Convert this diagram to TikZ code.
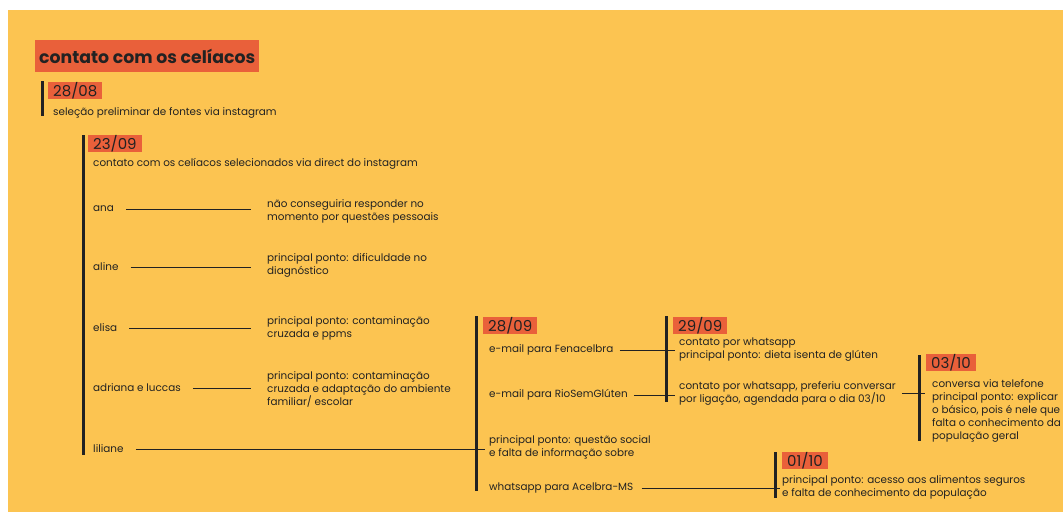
\documentclass[tikz,border=0pt]{standalone}
\usepackage{fontspec}
\setmainfont{Poppins}
\usetikzlibrary{positioning}
\definecolor{bgyellow}{HTML}{FCC451}
\definecolor{tagred}{HTML}{E9603A}
\definecolor{ink}{HTML}{222222}
\tikzset{
  datebox/.style={fill=tagred, anchor=north west, inner xsep=5pt, inner ysep=0pt,
    minimum height=16pt, font=\fontsize{15}{15}\selectfont},
  note/.style={anchor=west, inner sep=0pt, align=left, font=\fontsize{10.4}{13}\selectfont},
  bar/.style={line width=3pt, ink},
  link/.style={ink, line width=0.8pt, shorten <=12pt, shorten >=16pt},
}
\begin{document}
\begin{tikzpicture}[x=1pt, y=-1pt, text=ink]
    \useasboundingbox (0,0) rectangle (1063,512);
    \fill[white] (0,0) rectangle (1063,512);
    \fill[bgyellow] (8,10) rectangle (1063,512);
    %% title
    \node[fill=tagred, anchor=north west, inner xsep=4pt, minimum height=32pt,
      font=\fontsize{17.3}{17.3}\selectfont\bfseries] (titulo) at (35,40) {contato com os celíacos};
    %% 28/08
    \draw[bar] (42,81) -- (42,116);
    \node[datebox] (d2808) at (48,82) {28/08};
    \node[note] (selecao) at (53,113) {seleção preliminar de fontes via instagram};
    %% 23/09
    \draw[bar] (83,135) -- (83,455);
    \node[datebox] (d2309) at (88,135) {23/09};
    \node[note] (direct) at (93,164) {contato com os celíacos selecionados via direct do instagram};
    \node[note] (ana) at (93,209) {ana};
    \node[note] (aline) at (93,267) {aline};
    \node[note] (elisa) at (93,328) {elisa};
    \node[note] (adriana) at (93,388) {adriana e luccas};
    \node[note] (liliane) at (93,449) {liliane};
    \node[note] (anatxt) at (267,211) {não conseguiria responder no\\momento por questões pessoais};
    \node[note] (alinetxt) at (267,265) {principal ponto: dificuldade no\\diagnóstico};
    \node[note] (elisatxt) at (267,328) {principal ponto: contaminação\\cruzada e ppms};
    \node[note] (adrianatxt) at (267,389) {principal ponto: contaminação\\cruzada e adaptação do ambiente\\familiar/ escolar};
    \draw[link] (ana.east) -- (ana.east -| anatxt.west);
    \draw[link] (aline.east) -- (aline.east -| alinetxt.west);
    \draw[link] (elisa.east) -- (elisa.east -| elisatxt.west);
    \draw[link] (adriana.east) -- (adriana.east -| adrianatxt.west);
    %% 28/09
    \draw[bar] (476,316) -- (476,491);
    \node[datebox] (d2809) at (483,317) {28/09};
    \node[note] (fena) at (489,350) {e-mail para Fenacelbra};
    \node[note] (rio) at (489,395) {e-mail para RioSemGlúten};
    \node[note] (social) at (489,447) {principal ponto: questão social\\e falta de informação sobre};
    \node[note] (acelbra) at (489,488) {whatsapp para Acelbra-MS};
    \draw[link, shorten >=4pt] (liliane.east) -- (liliane.east -| social.west);
    %% 29/09
    \draw[bar] (666,316) -- (666,402);
    \node[datebox] (d2909) at (673,317) {29/09};
    \node[note] (dieta) at (679,350) {contato por whatsapp\\principal ponto: dieta isenta de glúten};
    \node[note] (ligacao) at (679,393) {contato por whatsapp, preferiu conversar\\por ligação, agendada para o dia 03/10};
    \draw[link, shorten <=6pt, shorten >=4pt] (fena.east) -- (fena.east -| dieta.west);
    \draw[link, shorten <=6pt, shorten >=4pt] (rio.east) -- (rio.east -| ligacao.west);
    %% 03/10
    \draw[bar] (919,355) -- (919,441);
    \node[datebox] (d0310) at (926,354) {03/10};
    \node[note] (telefone) at (932,411) {conversa via telefone\\principal ponto: explicar\\o básico, pois é nele que\\falta o conhecimento da\\população geral};
    \draw[link, shorten <=6pt, shorten >=7pt] (ligacao.east) -- (ligacao.east -| telefone.west);
    %% 01/10
    \draw[bar] (775,452) -- (775,498);
    \node[datebox] (d0110) at (782,452) {01/10};
    \node[note] (acesso) at (782,487) {principal ponto: acesso aos alimentos seguros\\e falta de conhecimento da população};
    \draw[link, shorten <=8pt, shorten >=2pt] (acelbra.east) -- (acelbra.east -| acesso.west);
\end{tikzpicture}
\end{document}
